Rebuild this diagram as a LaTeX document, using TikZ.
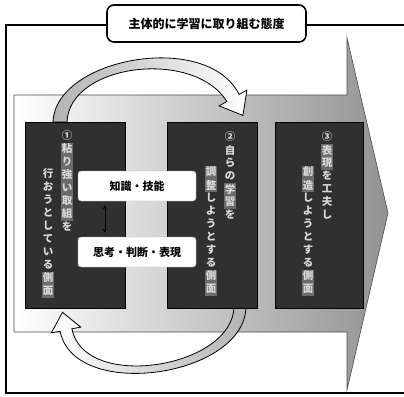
\documentclass[tikz,border=0pt]{standalone}
\usepackage{fontspec}
\newfontfamily\jp{Noto Sans CJK JP}
\usetikzlibrary{arrows.meta}
\definecolor{hl}{gray}{0.42}
\definecolor{boxdark}{gray}{0.19}
\tikzset{
  frameline/.style={line width=1.8pt, black},
  bigarrow/.style={left color=white, right color=gray!85, draw=gray!60!black, line width=0.6pt},
  darkbox/.style={draw=black, line width=1pt, fill=boxdark, inner sep=0pt},
  curvearrow/.style={draw=black, line width=0.8pt},
  vch/.style={inner sep=0pt, minimum width=12.5pt, minimum height=13pt, text=white!85!black,
    font=\jp\bfseries\fontsize{10.5}{12}\selectfont},
  wbox/.style={draw=gray!70, fill=white, rounded corners=3pt, minimum width=118pt,
    minimum height=30pt, inner sep=0pt, font=\jp\bfseries\fontsize{11}{13}\selectfont},
  titlebox/.style={draw=black, fill=white, rounded corners=7pt, line width=1.6pt,
    minimum width=199pt, minimum height=37pt, inner sep=0pt, font=\jp\bfseries\fontsize{12}{14}\selectfont},
  dblarrow/.style={{Stealth[length=4pt,width=4pt]}-{Stealth[length=4pt,width=4pt]}, line width=0.6pt, black}
}
\newcommand\vcol[4]{% name, x, y, list
  \foreach \ch/\hc [count=\i from 0] in {#4} {\node[vch, fill=\hc] (#1-\i) at (#2, #3+13*\i) {\ch};}}
\begin{document}
\begin{tikzpicture}[x=1pt,y=-1pt]
\useasboundingbox (0,0) rectangle (404,396);
\fill[white] (0,0) rectangle (404,396);
% outer frame
\draw[frameline] (404,25) -- (6,25) -- (6,393) -- (404,393);
% big arrow
\shadedraw[bigarrow] (14,95) -- (347,95) -- (347,38) -- (388,213) -- (347,390) -- (347,332) -- (14,332) -- cycle;
% top curved arrow
\shadedraw[curvearrow, left color=gray!60, right color=white]
  (53,122) .. controls (55,58) and (207,30) .. (239.1,94.5) -- (246.9,90.1) -- (242.9,115.4)
  -- (219.1,105.9) -- (226.9,101.5) .. controls (193,48) and (69,64) .. (67,122) -- cycle;
% bottom curved arrow
\shadedraw[curvearrow, left color=white, right color=gray!60]
  (246,306) .. controls (246,377) and (74,402) .. (60.1,331.2) -- (51.3,332.9) -- (62.5,312.3)
  -- (80.7,327.1) -- (71.9,328.8) .. controls (84,392) and (234,368) .. (234,306) -- cycle;
% dark boxes
\node[darkbox, minimum width=100pt, minimum height=186pt] (b1) at (75,215) {};
\node[darkbox, minimum width=90pt, minimum height=186pt] (b2) at (212,215) {};
\node[darkbox, minimum width=88pt, minimum height=186pt] (b3) at (319,215) {};
% vertical texts
\vcol{b1r}{67}{136}{①/none,粘/hl,り/hl,強/hl,い/hl,取/hl,組/hl,を/none}
\vcol{b1l}{48}{174}{行/none,お/none,う/none,と/none,し/none,て/none,い/none,る/none,側/hl,面/hl}
\vcol{b2r}{230}{137}{②/none,自/none,ら/none,の/none,学/hl,習/hl,を/none}
\vcol{b2l}{211}{172}{調/hl,整/hl,し/none,よ/none,う/none,と/none,す/none,る/none,側/hl,面/hl}
\vcol{b3r}{327}{137}{③/none,表/hl,現/hl,を/none,工/none,夫/none,し/none}
\vcol{b3l}{308}{172}{創/hl,造/hl,し/none,よ/none,う/none,と/none,す/none,る/none,側/hl,面/hl}
% white boxes
\node[wbox] (ka) at (137,186) {知識・技能};
\node[wbox] (sh) at (137,252) {思考・判断・表現};
\draw[dblarrow] ([xshift=27pt,yshift=-4pt]ka.south west) -- ([xshift=27pt,yshift=4pt]sh.north west);
% title
\node[titlebox] (title) at (206.5,23.5) {主体的に学習に取り組む態度};
\end{tikzpicture}
\end{document}
